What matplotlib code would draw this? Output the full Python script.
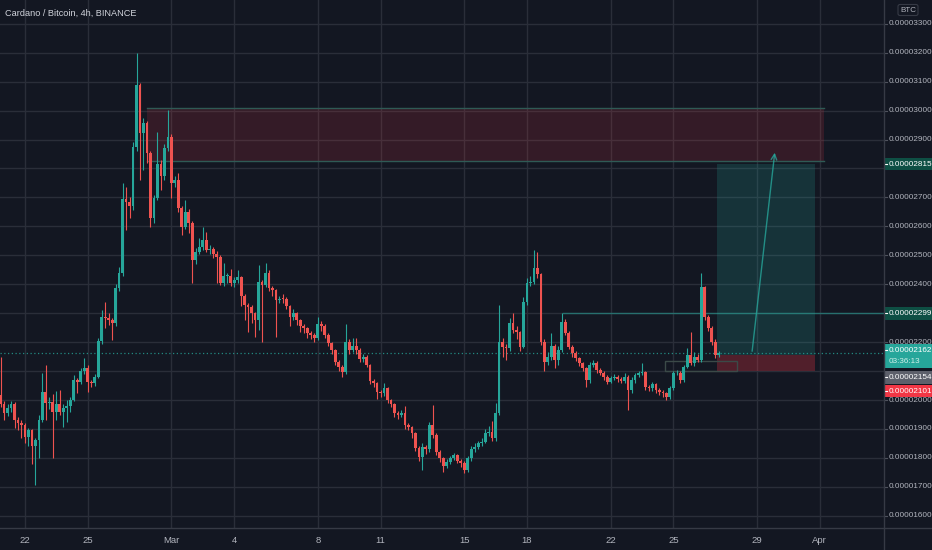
import matplotlib
matplotlib.use("Agg")
import matplotlib.pyplot as plt
import matplotlib.dates as mdates
from matplotlib.patches import Rectangle
import pandas as pd
import datetime as dt

plt.rcParams['font.family'] = ['Liberation Sans', 'DejaVu Sans']

# ---------------- data (prices in satoshi = 1e-8 BTC) ----------------
first_open = 2017
closes = [1985,1956,1971,1985,1931,1920,1914,1871,1895,1841,1862,1931,2027,1989,1994,1958,1988,1960,1971,1979,
          2000,2069,2063,2100,2112,2063,2060,2081,2204,2288,2282,2276,2265,2388,2440,2693,2685,2670,2875,3088,
          2924,2958,2852,2628,2697,2815,2774,2870,2910,2749,2760,2662,2599,2651,2610,2484,2513,2530,2553,2518,
          2523,2506,2495,2403,2428,2430,2403,2415,2426,2359,2328,2323,2300,2277,2409,2398,2440,2386,2380,2346,
          2350,2348,2325,2286,2300,2277,2256,2248,2230,2225,2213,2262,2257,2225,2196,2173,2133,2115,2098,2202,
          2173,2187,2173,2141,2150,2121,2067,2058,2029,2024,2040,2000,1986,1954,1948,1956,1914,1908,1887,1833,
          1804,1839,1830,1914,1879,1822,1799,1772,1787,1800,1810,1790,1782,1758,1799,1830,1839,1850,1856,1887,
          1890,1868,1956,2202,2184,2179,2265,2242,2236,2184,2340,2403,2409,2455,2435,2202,2133,2150,2187,2138,
          2173,2271,2233,2184,2162,2144,2127,2110,2069,2121,2129,2104,2095,2081,2063,2075,2081,2072,2066,2081,
          2035,2069,2087,2092,2098,2046,2040,2055,2035,2029,2023,2012,2040,2092,2095,2069,2115,2156,2127,2150,
          2140,2392,2288,2248,2202,2156,2162]
highs = [2150,1995,1985,1998,1992,1940,1930,1920,1905,1900,1870,1950,2092,2121,2010,2020,2030,2035,1985,2000,
         2010,2087,2075,2110,2144,2120,2070,2090,2215,2311,2340,2300,2285,2400,2461,2749,2737,2700,2890,3200,
         3095,2975,2965,2860,2710,2927,2830,2885,3002,2920,2775,2783,2670,2691,2660,2620,2525,2559,2599,2582,
         2535,2530,2515,2500,2472,2440,2452,2425,2449,2430,2365,2335,2330,2305,2467,2415,2472,2450,2395,2385,
         2360,2365,2355,2330,2315,2305,2280,2262,2252,2238,2230,2288,2272,2262,2230,2200,2178,2140,2120,2263,
         2210,2216,2216,2180,2160,2155,2125,2072,2062,2035,2060,2045,2005,1990,1962,1965,1979,1920,1912,1890,
         1840,1850,1845,1925,1983,1885,1828,1805,1795,1808,1818,1815,1798,1790,1808,1840,1850,1860,1870,1900,
         1910,1929,1990,2328,2215,2195,2285,2300,2255,2240,2355,2420,2430,2520,2510,2440,2210,2165,2230,2195,
         2185,2300,2280,2240,2190,2168,2150,2132,2115,2130,2140,2135,2110,2100,2085,2082,2090,2088,2078,2092,
         2085,2078,2095,2100,2127,2102,2052,2062,2060,2040,2035,2028,2048,2100,2105,2100,2122,2179,2236,2165,
         2158,2438,2395,2295,2255,2210,2170]
lows = [1975,1930,1945,1960,1905,1895,1870,1850,1840,1780,1706,1800,1925,1931,1970,1799,1930,1950,1908,1925,
        1960,1995,2023,2055,2090,2029,2045,2050,2075,2195,2248,2260,2207,2255,2375,2430,2587,2630,2656,2860,
        2760,2795,2818,2599,2610,2690,2726,2760,2860,2697,2735,2650,2570,2590,2576,2403,2470,2505,2520,2510,
        2505,2490,2403,2397,2395,2403,2395,2390,2405,2325,2277,2236,2265,2219,2242,2202,2390,2375,2360,2219,
        2335,2335,2315,2256,2275,2260,2235,2230,2215,2210,2200,2208,2240,2215,2185,2160,2120,2100,2081,2090,
        2160,2165,2160,2130,2130,2113,2055,2045,2002,2012,2015,1990,1975,1943,1935,1940,1900,1895,1870,1825,
        1790,1758,1815,1820,1870,1810,1785,1752,1765,1780,1792,1782,1770,1747,1750,1790,1822,1830,1840,1850,
        1875,1860,1860,1950,2150,2140,2170,2230,2210,2170,2180,2330,2395,2400,2420,2190,2100,2120,2140,2110,
        2120,2165,2225,2175,2150,2135,2118,2100,2046,2060,2115,2095,2085,2070,2055,2058,2070,2062,2058,2060,
        1966,2025,2060,2080,2085,2035,2030,2032,2025,2018,2012,2000,2005,2035,2085,2060,2062,2110,2120,2118,
        2130,2130,2275,2238,2190,2145,2150]
start_time = "2021-02-20 20:00"

# resistance zone, position tool, lines
zone_low, zone_high = 2826, 3009
zone_start, zone_end = "2021-02-27 19:30", "2021-04-01 05:00"
entry, target, stop = 2154, 2815, 2101
pos_start, pos_end = "2021-03-27 01:30", "2021-03-31 18:30"
level_2299 = 2299
level_start = "2021-03-19 17:00"
last_price = 2162
countdown = "03:36:13"
arrow_from = ("2021-03-28 18:00", 2159)
arrow_to = ("2021-03-29 20:40", 2864)

tick_dates = ["2021-02-22","2021-02-25","2021-03-01","2021-03-04","2021-03-08","2021-03-11",
              "2021-03-15","2021-03-18","2021-03-22","2021-03-25","2021-03-29","2021-04-01"]
tick_labels = ["22","25","Mar","4","8","11","15","18","22","25","29","Apr"]
price_ticks = list(range(1600, 3301, 100))
hidden_ticks = [2100, 2300]
title = "Cardano / Bitcoin, 4h, BINANCE"

# ---------------- styling ----------------
BG = "#131722"
GRID = "#2a2e39"
UP = "#26a69a"
DOWN = "#ef5350"
TXT = "#b2b5be"
FS = 5.9

W, H = 932, 550
fig = plt.figure(figsize=(W/100, H/100), dpi=100, facecolor=BG)
plot_right = 884 / W
plot_bottom = (H - 528) / H
ax = fig.add_axes([0, plot_bottom, plot_right, 1 - plot_bottom], facecolor=BG)
axp = fig.add_axes([plot_right, plot_bottom, 1 - plot_right, 1 - plot_bottom], facecolor=BG)

base = mdates.date2num(dt.datetime(2021, 2, 22))
ymin = 3300 - (528 - 23.7) / 0.2895
ymax = 3300 + 23.7 / 0.2895
ax.set_xlim(base - 1.194, base + 41.07)
ax.set_ylim(ymin, ymax)
axp.set_ylim(ymin, ymax)
axp.set_xlim(0, 1)

for a in (ax, axp):
    for s in a.spines.values():
        s.set_visible(False)
axp.set_xticks([])
axp.set_yticks([])

# grid
for p in price_ticks:
    ax.axhline(p, color=GRID, lw=1, zorder=0)
tick_nums = [mdates.date2num(pd.Timestamp(d)) for d in tick_dates]
for t in tick_nums:
    ax.axvline(t, color=GRID, lw=1, zorder=0)

ax.set_xticks(tick_nums)
ax.set_xticklabels(tick_labels, color=TXT, fontsize=6.8)
ax.tick_params(axis='x', length=0, pad=6)
ax.set_yticks([])

# resistance zone
zs = mdates.date2num(pd.Timestamp(zone_start))
ze = mdates.date2num(pd.Timestamp(zone_end))
ax.add_patch(Rectangle((zs, zone_low), ze - zs, zone_high - zone_low,
                       facecolor="#f23645", alpha=0.15, edgecolor="none", zorder=1))
ax.plot([zs, ze], [zone_high, zone_high], color="#2f5a55", lw=1, zorder=1)
ax.plot([zs, ze], [zone_low, zone_low], color="#2f5a55", lw=1, zorder=1)

# position tool
ps = mdates.date2num(pd.Timestamp(pos_start))
pe = mdates.date2num(pd.Timestamp(pos_end))
ax.add_patch(Rectangle((ps, entry), pe - ps, target - entry, facecolor=UP, alpha=0.2,
                       edgecolor="none", zorder=1))
ax.add_patch(Rectangle((ps, stop), pe - ps, entry - stop, facecolor="#f23645", alpha=0.28,
                       edgecolor="none", zorder=1))
bs = mdates.date2num(pd.Timestamp("2021-03-24 14:00"))
be = mdates.date2num(pd.Timestamp("2021-03-28 01:00"))
ax.add_patch(Rectangle((bs, 2102), be - bs, 33, facecolor="none", edgecolor="#3b4a48",
                       lw=1, zorder=1))

# level lines
ls = mdates.date2num(pd.Timestamp(level_start))
ax.plot([ls, base + 41.07], [level_2299, level_2299], color=UP, alpha=0.55, lw=1, zorder=1)
ax.axhline(last_price, color=UP, lw=0.9, ls=(0, (1, 2)), alpha=0.8, zorder=1)

# candles
times = pd.date_range(start_time, periods=len(closes), freq="4h")
xs = mdates.date2num(times.to_pydatetime())
opens = [first_open] + closes[:-1]
bw = 0.8 / 6
for x, o, h, l, c in zip(xs, opens, highs, lows, closes):
    col = UP if c >= o else DOWN
    ax.vlines(x, l, h, color=col, lw=0.8, zorder=3)
    bot = min(o, c)
    hgt = max(abs(c - o), 3)
    ax.add_patch(Rectangle((x - bw / 2, bot), bw, hgt, facecolor=col, edgecolor="none", zorder=4))

# arrow
a0 = mdates.date2num(pd.Timestamp(arrow_from[0]))
a1 = mdates.date2num(pd.Timestamp(arrow_to[0]))
ax.annotate("", xy=(a1, arrow_to[1]), xytext=(a0, arrow_from[1]),
            arrowprops=dict(arrowstyle="->", color=UP, lw=1, alpha=0.8,
                            mutation_scale=10), zorder=5)

# title
ax.text(5 / 884, 1 - 13 / 528, title, transform=ax.transAxes, color="#d1d4dc",
        fontsize=6.6, va="center", ha="left")

# separators
fig.add_artist(plt.Line2D([plot_right, plot_right], [0, 1], color="#363a45", lw=1,
                          transform=fig.transFigure))
fig.add_artist(plt.Line2D([0, 1], [plot_bottom, plot_bottom], color="#363a45", lw=1,
                          transform=fig.transFigure))

# price axis labels
for p in price_ticks:
    if p in hidden_ticks:
        continue
    axp.text(0.09, p, f"0.{p:08d}", color=TXT, fontsize=FS, va="center", ha="left", zorder=2)
    axp.plot([0, 0.06], [p, p], color="#50535e", lw=0.8, zorder=2)

def price_box(pc, text, fc, tc="white", hgt=42, line2=None):
    extra = 40 if line2 else 0
    axp.add_patch(Rectangle((0.02, pc - hgt / 2 - extra), 0.98, hgt + extra,
                            facecolor=fc, edgecolor="none", zorder=5))
    axp.text(0.09, pc, text, color=tc, fontsize=FS, va="center", ha="left", zorder=6)
    if line2:
        axp.text(0.09, pc - 38, line2, color="#d0efe9", fontsize=FS, va="center", ha="left", zorder=6)
    axp.plot([0, 0.06], [pc, pc], color=tc, lw=0.8, zorder=6)

price_box(target, f"0.{target:08d}", "#0e4f44")
price_box(level_2299, f"0.{level_2299:08d}", "#0e4f44")
price_box(2172, f"0.{last_price:08d}", UP, line2=countdown)
price_box(2078, f"0.{entry:08d}", "#5d606b")
price_box(2031, f"0.{stop:08d}", "#f23645")

# BTC unit box
axp.text(0.5, 3300 + (23.7 - 10) / 0.2895, "BTC", color=TXT, fontsize=5.8, ha="center",
         va="center", zorder=6,
         bbox=dict(boxstyle="round,pad=0.25", facecolor=BG, edgecolor="#363a45", lw=0.8))

fig.savefig("out.png", dpi=100, facecolor=BG)
